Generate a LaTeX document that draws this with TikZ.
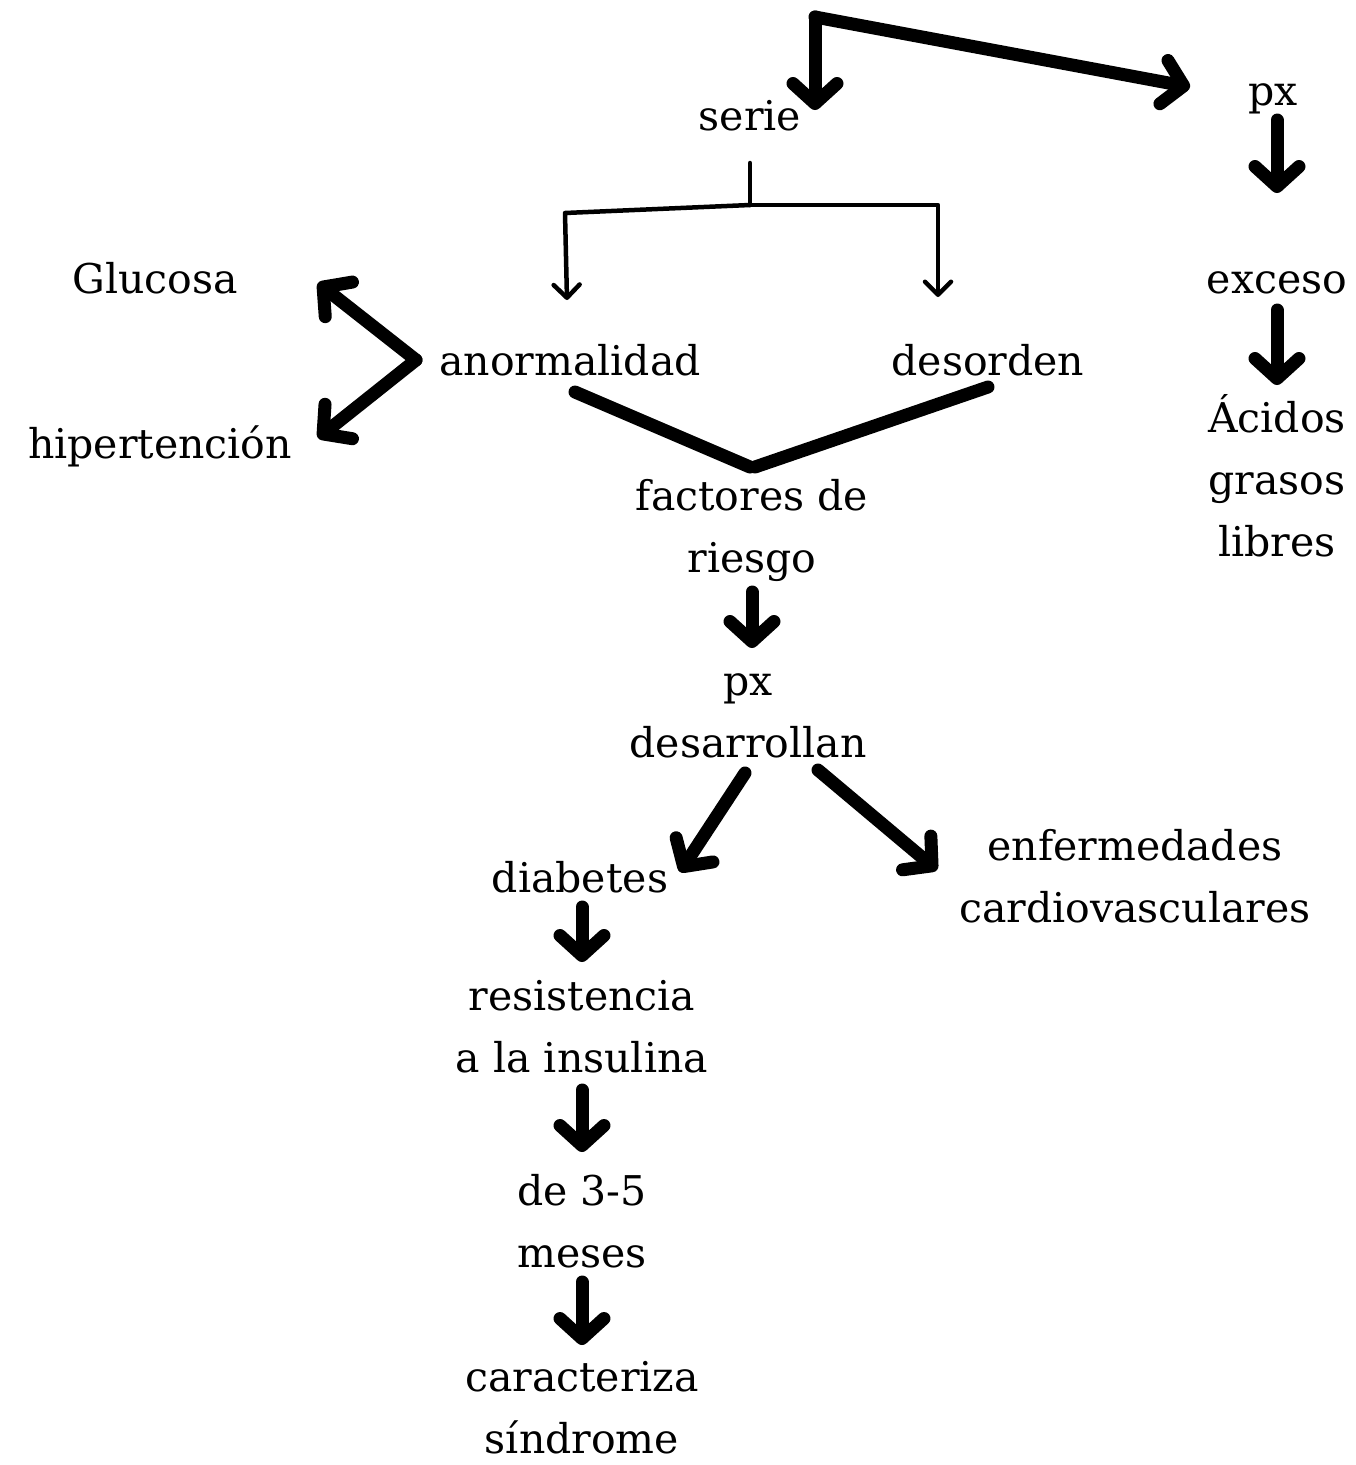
\documentclass[tikz,border=0pt]{standalone}
\usepackage{fontspec}
\setmainfont{DejaVu Serif}
\usetikzlibrary{arrows.meta,calc}
\begin{document}
\begin{tikzpicture}[x=1pt,y=-1pt,
  lbl/.style={inner sep=0pt, align=center, anchor=base, font=\fontsize{41}{62}\selectfont},
  thk/.style={line width=13pt, line cap=round, line join=round},
  thn/.style={line width=4.5pt, line cap=round, line join=round},
  bigarr/.style={thk, -{Straight Barb[length=20pt,width=44pt,round]}},
  smallarr/.style={thn, -{Straight Barb[length=13pt,width=26pt,round]}}]
\useasboundingbox (0,0) rectangle (1356,1465);
% nodes (multi-line nodes are placed at the baseline of their last line)
\node[lbl] (serie) at (750,130) {serie};
\node[lbl] (pxa) at (1273,105) {px};
\node[lbl] (exceso) at (1277,293) {exceso};
\node[lbl] (acidos) at (1277,556) {Ácidos\\grasos\\libres};
\node[lbl] (gluc) at (155,293) {Glucosa};
\node[lbl] (hiper) at (160,458) {hipertención};
\node[lbl] (anorm) at (570,375) {anormalidad};
\node[lbl] (desor) at (988,375) {desorden};
\node[lbl] (fact) at (752,572) {factores de\\riesgo};
\node[lbl] (pxd) at (748,757) {px\\desarrollan};
\node[lbl] (diab) at (580,892) {diabetes};
\node[lbl] (enf) at (1135,922) {enfermedades\\cardiovasculares};
\node[lbl] (resis) at (582,1072) {resistencia\\a la insulina};
\node[lbl] (de35) at (582,1267) {de 3-5\\meses};
\node[lbl] (carac) at (582,1453) {caracteriza\\síndrome};
% top connectors
\coordinate (top) at (815,17);
\draw[bigarr] (top) -- ($(serie.base)+(65,-20)$);
\draw[bigarr] (top) -- ($(pxa.base)+(-83,-18)$);
% serie tree
\coordinate (jn) at ($(serie.base)+(0,75)$);
\draw[thn] ($(serie.base)+(0,33)$) -- (jn);
\draw[smallarr] (jn) -- ($(anorm.base)+(-5,-162)$) -- ($(anorm.base)+(-3,-75)$);
\draw[smallarr] (jn) -- ($(desor.base)+(-50,-170)$) -- ($(desor.base)+(-50,-78)$);
% anormalidad branches
\coordinate (av) at ($(anorm.base)+(-154,-15)$);
\draw[bigarr] (av) -- ($(gluc.base)+(163,-10)$);
\draw[bigarr] (av) -- ($(hiper.base)+(158,-20)$);
% to factores
\draw[thk] ($(anorm.base)+(5,17)$) -- ($(fact.base)+(-2,-105)$);
\draw[thk] ($(desor.base)+(0,12)$) -- ($(fact.base)+(3,-105)$);
% down chain
\draw[bigarr] ($(fact.base)+(0,20)$) -- ($(pxd.base)+(4,-109)$);
\draw[bigarr] ($(pxd.base)+(-3,16)$) -- ($(diab.base)+(100,-20)$);
\draw[bigarr] ($(pxd.base)+(70,13)$) -- ($(enf.base)+(-198,-52)$);
\draw[bigarr] ($(diab.base)+(2,15)$) -- ($(resis.base)+(0,-110)$);
\draw[bigarr] ($(resis.base)+(0,18)$) -- ($(de35.base)+(0,-115)$);
\draw[bigarr] ($(de35.base)+(0,15)$) -- ($(carac.base)+(0,-108)$);
% right chain
\draw[bigarr] ($(pxa.base)+(4,15)$) -- ($(exceso.base)+(0,-100)$);
\draw[bigarr] ($(exceso.base)+(0,17)$) -- ($(acidos.base)+(0,-171)$);
\end{tikzpicture}
\end{document}
